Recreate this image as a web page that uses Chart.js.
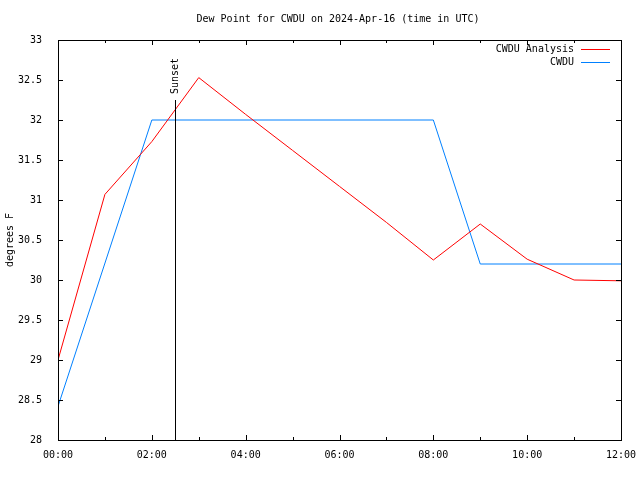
<!DOCTYPE html>
<html>
<head>
<meta charset="utf-8">
<script src="https://cdn.jsdelivr.net/npm/chart.js@4/dist/chart.umd.min.js"></script>
<style>
  html, body { margin: 0; padding: 0; background: #fff; }
  canvas { display: block; }
</style>
</head>
<body>
<canvas id="dewChart" width="640" height="480"></canvas>
<script>
// hours since 00:00 UTC
const analysisHours = [0, 1, 2, 3, 4, 5, 6, 7, 8, 9, 10, 11, 12];
const analysisValues = [29.0, 31.07, 31.73, 32.53, 32.07, 31.62, 31.17, 30.72, 30.25, 30.7, 30.26, 30.0, 29.99];
const obsHours = [0, 2, 8, 9, 12];
const obsValues = [28.42, 32.0, 32.0, 30.2, 30.2];
const seriesNames = ['CWDU Analysis', 'CWDU'];
const sunsetHour = 2.5;
const sunsetTop = 32.25;
const chartTitle = 'Dew Point for CWDU on 2024-Apr-16 (time in UTC)';

const FONT = '"DejaVu Sans Mono", monospace';

function pts(xs, ys) {
    return xs.map((x, i) => ({ x: x, y: ys[i] }));
}

// gnuplot-ish frame, inward ticks, sunset marker, legend, title
const gnuplotDecor = {
    id: 'gnuplotDecor',
    afterDraw(chart) {
        const ctx = chart.ctx;
        const a = chart.chartArea;
        const xs = chart.scales.x;
        const ys = chart.scales.y;
        ctx.save();
        ctx.strokeStyle = '#000';
        ctx.lineWidth = 1;
        ctx.strokeRect(Math.round(a.left) + 0.5, Math.round(a.top) + 0.5,
            Math.round(a.right - a.left), Math.round(a.bottom - a.top));

        ctx.beginPath();
        for (let h = 0; h <= 12; h++) {
            const px = Math.round(xs.getPixelForValue(h)) + 0.5;
            const len = h % 2 === 0 ? 5 : 3;
            ctx.moveTo(px, a.bottom); ctx.lineTo(px, a.bottom - len);
            ctx.moveTo(px, a.top); ctx.lineTo(px, a.top + len);
        }
        for (let v = 28; v <= 33.001; v += 0.5) {
            const py = Math.round(ys.getPixelForValue(v)) + 0.5;
            ctx.moveTo(a.left, py); ctx.lineTo(a.left + 5, py);
            ctx.moveTo(a.right, py); ctx.lineTo(a.right - 5, py);
        }
        ctx.stroke();

        // sunset line
        const sx = Math.round(xs.getPixelForValue(sunsetHour)) + 0.5;
        const sTop = ys.getPixelForValue(sunsetTop);
        ctx.beginPath();
        ctx.moveTo(sx, a.bottom);
        ctx.lineTo(sx, sTop);
        ctx.stroke();
        ctx.save();
        ctx.translate(sx, sTop - 6);
        ctx.rotate(-Math.PI / 2);
        ctx.font = '10px ' + FONT;
        ctx.fillStyle = '#000';
        ctx.textAlign = 'left';
        ctx.textBaseline = 'middle';
        ctx.fillText('Sunset', 0, 0);
        ctx.restore();

        // legend
        ctx.font = '10px ' + FONT;
        ctx.textAlign = 'right';
        ctx.textBaseline = 'middle';
        chart.data.datasets.forEach((ds, i) => {
            const y = a.top + 9 + i * 13;
            ctx.fillStyle = '#000';
            ctx.fillText(ds.label, a.right - 47, y);
            ctx.strokeStyle = ds.borderColor;
            ctx.beginPath();
            ctx.moveTo(a.right - 40, Math.round(y) + 0.5);
            ctx.lineTo(a.right - 11, Math.round(y) + 0.5);
            ctx.stroke();
        });

        // title
        ctx.fillStyle = '#000';
        ctx.textAlign = 'center';
        ctx.fillText(chartTitle, 338, 19);
        ctx.restore();
    }
};

new Chart(document.getElementById('dewChart'), {
    type: 'line',
    data: {
        datasets: [{
            label: seriesNames[0],
            data: pts(analysisHours, analysisValues),
            borderColor: '#ff0000',
            borderWidth: 1,
            pointRadius: 0,
            tension: 0,
            fill: false
        }, {
            label: seriesNames[1],
            data: pts(obsHours, obsValues),
            borderColor: '#0080ff',
            borderWidth: 1,
            pointRadius: 0,
            tension: 0,
            fill: false
        }]
    },
    options: {
        responsive: false,
        animation: false,
        layout: { padding: { top: 40, right: 19, bottom: 0, left: 0 } },
        plugins: {
            legend: { display: false },
            tooltip: { enabled: false }
        },
        scales: {
            x: {
                type: 'linear',
                min: 0,
                max: 12,
                grid: { display: false },
                border: { display: false },
                afterFit: s => { s.height = 40; s.paddingLeft = 0; s.paddingRight = 0; },
                ticks: {
                    stepSize: 2,
                    padding: 1,
                    maxRotation: 0,
                    color: '#000',
                    font: { family: FONT, size: 10 },
                    callback: v => String(v).padStart(2, '0') + ':00'
                }
            },
            y: {
                min: 28,
                max: 33,
                grid: { display: false },
                border: { display: false },
                afterFit: s => { s.width = 58; s.paddingTop = 0; s.paddingBottom = 0; },
                title: {
                    display: true,
                    text: 'degrees F',
                    color: '#000',
                    font: { family: FONT, size: 10 },
                    padding: { top: 4, bottom: 0 }
                },
                ticks: {
                    stepSize: 0.5,
                    padding: 8,
                    color: '#000',
                    font: { family: FONT, size: 10 },
                    callback: v => Number.isInteger(v) ? String(v) : v.toFixed(1)
                }
            }
        }
    },
    plugins: [gnuplotDecor]
});
</script>
</body>
</html>
